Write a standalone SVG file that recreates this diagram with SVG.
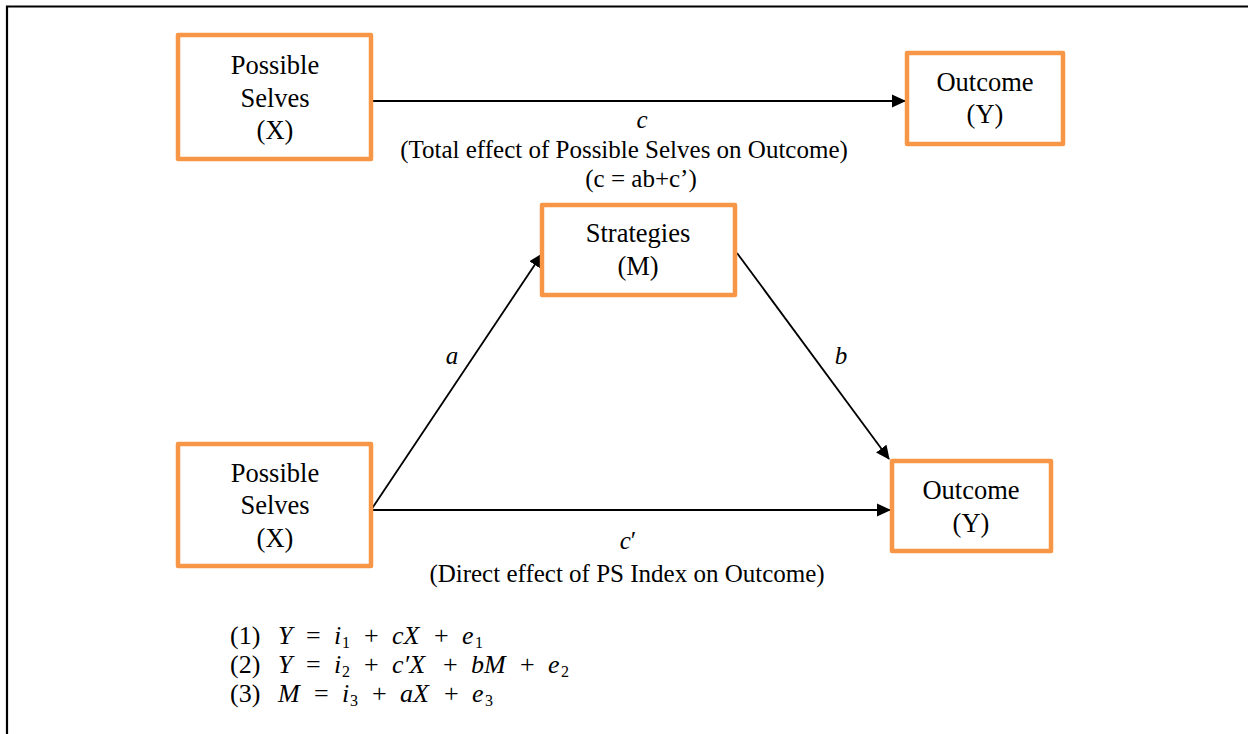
<svg xmlns="http://www.w3.org/2000/svg" width="1248" height="734" viewBox="0 0 1248 734">
<defs>
<marker id="ah" markerWidth="14" markerHeight="14" refX="13" refY="7" orient="auto" markerUnits="userSpaceOnUse">
<path d="M0,0.5 L14,7 L0,13.5 Z" fill="#000"/>
</marker>
<style>
.box{fill:#fff;stroke:#F79646;stroke-width:4.5;stroke-linejoin:round}
.t{font-family:"Liberation Serif","Times New Roman",serif;font-size:26.5px;fill:#000;text-anchor:middle}
.l{font-family:"Liberation Serif","Times New Roman",serif;font-size:25px;fill:#000;text-anchor:middle}
.i{font-style:italic}
.m{font-family:"Liberation Serif","Times New Roman",serif;font-size:26px;fill:#000}
.s{font-size:16px}
.edge{stroke:#000;stroke-width:1.8;fill:none;marker-end:url(#ah)}
</style>
</defs>
<rect width="1248" height="734" fill="#fff"/>
<path d="M7,734 V6.5 H1248" fill="none" stroke="#000" stroke-width="2.2"/>

<g id="connectors">
<line class="edge" x1="373" y1="101" x2="905" y2="101"/>
<line class="edge" x1="371" y1="510" x2="542" y2="254"/>
<line class="edge" x1="737" y1="253" x2="889" y2="459"/>
<line class="edge" x1="371" y1="510" x2="890" y2="510"/>
<text class="l i" x="642" y="128">c</text>
<text class="l" x="624" y="158">(Total effect of Possible Selves on Outcome)</text>
<text class="l" x="641" y="187">(c = ab+c’)</text>
<text class="l i" x="452" y="364">a</text>
<text class="l i" x="841" y="364">b</text>
<text class="l i" x="628" y="549">c<tspan font-style="normal">′</tspan></text>
<text class="l" x="627" y="582">(Direct effect of PS Index on Outcome)</text>
</g>

<g id="node-x-top">
<rect class="box" x="178" y="35" width="193" height="124"/>
<text class="t" x="275" y="74">Possible</text>
<text class="t" x="275" y="107">Selves</text>
<text class="t" x="275" y="139">(X)</text>
</g>
<g id="node-y-top">
<rect class="box" x="907" y="53" width="156" height="91"/>
<text class="t" x="985" y="91">Outcome</text>
<text class="t" x="985" y="123">(Y)</text>
</g>
<g id="node-m">
<rect class="box" x="542" y="205" width="193" height="90"/>
<text class="t" x="638" y="242">Strategies</text>
<text class="t" x="638" y="275">(M)</text>
</g>
<g id="node-x-bottom">
<rect class="box" x="178" y="444" width="193" height="122"/>
<text class="t" x="275" y="482">Possible</text>
<text class="t" x="275" y="514">Selves</text>
<text class="t" x="275" y="547">(X)</text>
</g>
<g id="node-y-bottom">
<rect class="box" x="892" y="461" width="159" height="90"/>
<text class="t" x="971" y="499">Outcome</text>
<text class="t" x="971" y="532">(Y)</text>
</g>

<g id="equations">
<text class="m" y="644"><tspan x="230">(1)</tspan><tspan x="278" class="i">Y</tspan><tspan x="306">=</tspan><tspan x="334" class="i">i</tspan><tspan x="342" class="s" dy="4">1</tspan><tspan x="364" dy="-4">+</tspan><tspan x="392" class="i">cX</tspan><tspan x="434">+</tspan><tspan x="462" class="i">e</tspan><tspan x="475" class="s" dy="4">1</tspan></text>
<text class="m" y="673"><tspan x="230">(2)</tspan><tspan x="278" class="i">Y</tspan><tspan x="306">=</tspan><tspan x="334" class="i">i</tspan><tspan x="342" class="s" dy="4">2</tspan><tspan x="364" dy="-4">+</tspan><tspan x="392" class="i">c′X</tspan><tspan x="443">+</tspan><tspan x="471" class="i">bM</tspan><tspan x="520">+</tspan><tspan x="548" class="i">e</tspan><tspan x="561" class="s" dy="4">2</tspan></text>
<text class="m" y="702"><tspan x="230">(3)</tspan><tspan x="278" class="i">M</tspan><tspan x="314">=</tspan><tspan x="342" class="i">i</tspan><tspan x="350" class="s" dy="4">3</tspan><tspan x="372" dy="-4">+</tspan><tspan x="400" class="i">aX</tspan><tspan x="444">+</tspan><tspan x="472" class="i">e</tspan><tspan x="485" class="s" dy="4">3</tspan></text>
</g>
</svg>
